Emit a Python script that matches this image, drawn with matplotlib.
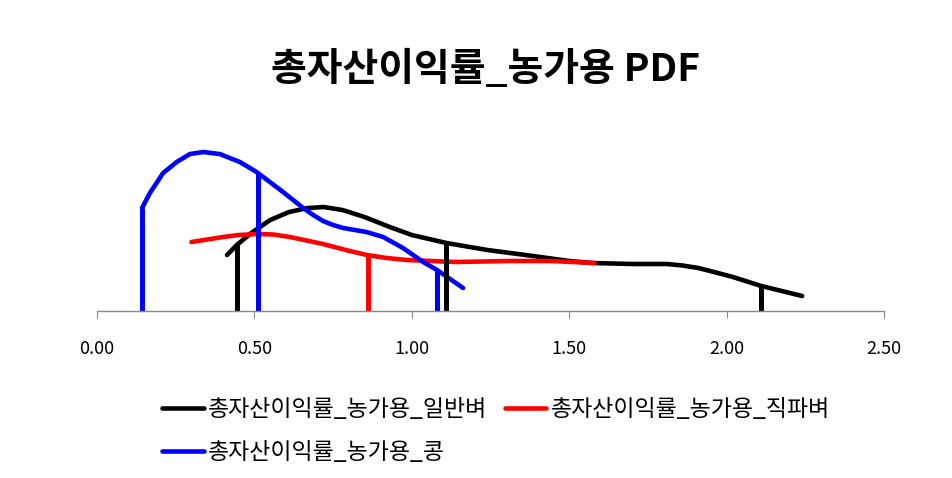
import numpy as np
import matplotlib
matplotlib.use('Agg')
from matplotlib import pyplot as plt

plt.rcParams['font.family'] = ['Noto Sans CJK KR', 'DejaVu Sans']

# curves (x, density)
black_x = [0.413, 0.444, 0.49, 0.55, 0.61, 0.67, 0.72, 0.78, 0.85, 0.93, 1.00, 1.11,
           1.24, 1.385, 1.50, 1.575, 1.70, 1.81, 1.86, 1.91, 1.96, 2.02, 2.11, 2.24]
black_y = [0.56, 0.66, 0.78, 0.91, 0.99, 1.03, 1.04, 1.01, 0.94, 0.84, 0.76, 0.68,
           0.61, 0.55, 0.50, 0.48, 0.47, 0.47, 0.455, 0.43, 0.39, 0.34, 0.25, 0.15]

red_x = [0.30, 0.40, 0.45, 0.508, 0.56, 0.613, 0.718, 0.79, 0.857, 0.92, 0.984, 1.14,
         1.31, 1.44, 1.58]
red_y = [0.69, 0.74, 0.76, 0.77, 0.765, 0.74, 0.67, 0.61, 0.56, 0.53, 0.51, 0.49,
         0.50, 0.50, 0.48]

blue_x = [0.143, 0.168, 0.21, 0.253, 0.295, 0.337, 0.39, 0.454, 0.507, 0.549, 0.591,
          0.623, 0.655, 0.687, 0.718, 0.75, 0.782, 0.856, 0.909, 0.972, 1.036, 1.08, 1.163]
blue_y = [1.03, 1.18, 1.38, 1.49, 1.57, 1.59, 1.57, 1.49, 1.39, 1.29, 1.19,
          1.11, 1.03, 0.96, 0.90, 0.86, 0.83, 0.79, 0.74, 0.63, 0.49, 0.41, 0.23]

# marker lines (x position, height)
black_vx = [0.444, 1.11, 2.11]
black_vh = [0.66, 0.68, 0.25]
red_vx = [0.86]
red_vh = [0.56]
blue_vx = [0.143, 0.511, 1.08]
blue_vh = [1.03, 1.38, 0.41]

labels = ['총자산이익률_농가용_일반벼', '총자산이익률_농가용_직파벼', '총자산이익률_농가용_콩']
xticks = [0.0, 0.5, 1.0, 1.5, 2.0, 2.5]

fig = plt.figure(figsize=(9.52, 4.78), dpi=100)
ax = fig.add_axes([0.1019, 0.3494, 0.8267, 0.366])

kw = dict(lw=3.3, solid_capstyle='round', solid_joinstyle='round')
lb, = ax.plot(black_x, black_y, color='black', **kw)
lr, = ax.plot(red_x, red_y, color='red', **kw)
lbl, = ax.plot(blue_x, blue_y, color='blue', **kw)

ax.vlines(black_vx, 0, black_vh, color='black', lw=3.6)
ax.vlines(red_vx, 0, red_vh, color='red', lw=3.6)
ax.vlines(blue_vx, 0, blue_vh, color='blue', lw=3.6)

ax.set_xlim(0, 2.5)
ax.set_ylim(0, 1.75)
ax.set_xticks(xticks)
ax.set_xticklabels(['%.2f' % v for v in xticks], fontsize=13)
ax.set_yticks([])
for s in ['top', 'left', 'right']:
    ax.spines[s].set_visible(False)
ax.spines['bottom'].set_color('#888888')
ax.spines['bottom'].set_linewidth(1)
ax.tick_params(axis='x', direction='out', length=5, color='#888888', pad=16)

fig.text(0.51, 0.855, '총자산이익률_농가용 PDF', ha='center', va='center',
         fontsize=28, fontweight='bold')

fig.legend([lb, lbl, lr], [labels[0], labels[2], labels[1]], ncol=2,
           loc='upper left', bbox_to_anchor=(0.161, 0.186), frameon=False,
           fontsize=16.5, handlelength=1.8, handletextpad=0.2, columnspacing=0.75,
           labelspacing=0.85, borderaxespad=0)

fig.savefig('out.png', dpi=100)
